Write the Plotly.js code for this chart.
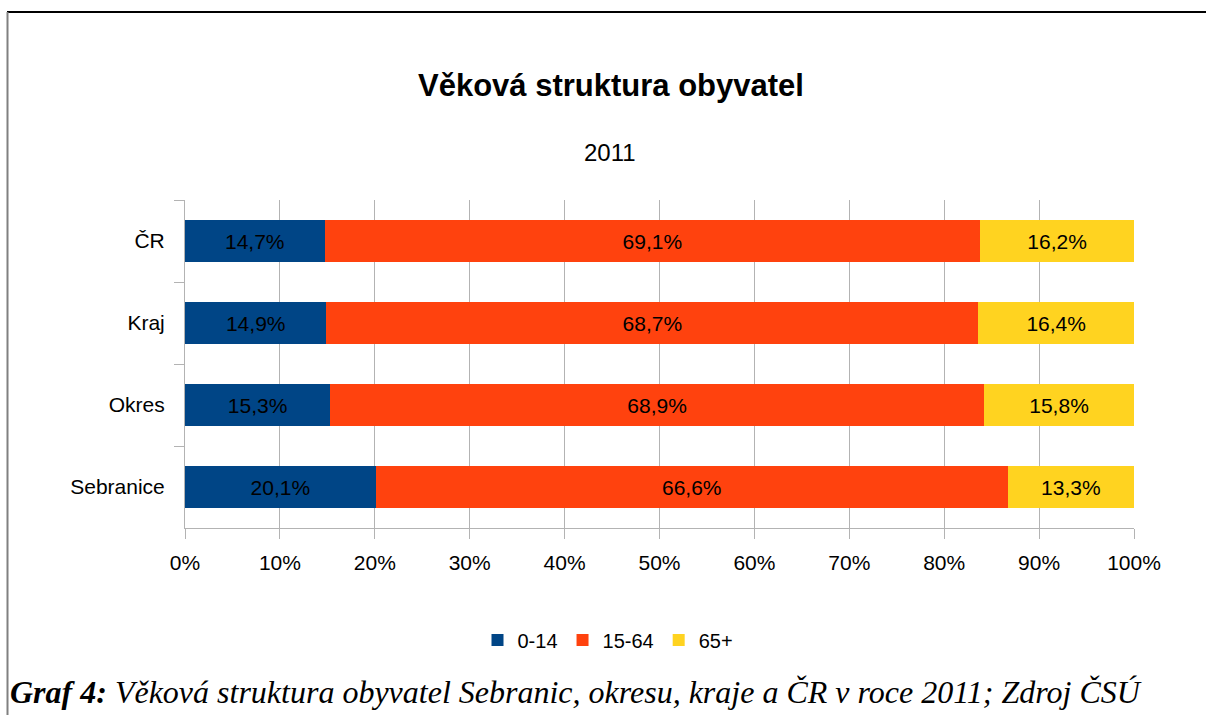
<!DOCTYPE html>
<html>
<head>
<meta charset="utf-8">
<script src="https://cdn.plot.ly/plotly-3.0.1.min.js"></script>
<style>html,body{margin:0;padding:0;background:#fff;}#chart{width:1206px;height:715px;}</style>
</head>
<body>
<div id="chart"></div>
<script>
const categories = ["ČR", "Kraj", "Okres", "Sebranice"];
const seriesNames = ["0-14", "15-64", "65+"];
const age0_14 = [14.7, 14.9, 15.3, 20.1];
const age15_64 = [69.1, 68.7, 68.9, 66.6];
const age65plus = [16.2, 16.4, 15.8, 13.3];
const xTickValues = [0, 10, 20, 30, 40, 50, 60, 70, 80, 90, 100];
const xTickLabels = ["0%", "10%", "20%", "30%", "40%", "50%", "60%", "70%", "80%", "90%", "100%"];
const colors = ["#004586", "#ff420e", "#ffd320"];
const titleText = "Věková struktura obyvatel";
const subtitleText = "2011";
const captionBold = "Graf 4:";
const captionText = " Věková struktura obyvatel Sebranic, okresu, kraje a ČR v roce 2011; Zdroj ČSÚ";

const L = 185, R = 1134, T = 200, B = 528, W = 1206, H = 715;
const px = v => (v - L) / (R - L);
const py = v => (B - v) / (B - T);

const fontF = "Liberation Sans, Arial, sans-serif";
const allSeries = [age0_14, age15_64, age65plus];
const traces = allSeries.map((vals, i) => ({
  type: "bar",
  orientation: "h",
  name: seriesNames[i],
  y: categories,
  x: vals,
  marker: {color: colors[i], line: {width: 0}},
  texttemplate: "%{x:.1f}%",
  textposition: "inside",
  insidetextanchor: "middle",
  textfont: {family: fontF, size: 21, color: "#000"},
  constraintext: "none",
  hoverinfo: "none"
}));

const layout = {
  width: W, height: H,
  margin: {l: L, r: W - R, t: T, b: H - B, pad: 0},
  paper_bgcolor: "#fff", plot_bgcolor: "#fff",
  barmode: "stack",
  bargap: 0.49,
  separators: ",.",
  showlegend: true,
  font: {family: fontF, size: 21, color: "#000"},
  legend: {orientation: "h", x: px(608), xanchor: "center", y: py(640), yanchor: "middle",
           font: {family: fontF, size: 20, color: "#000"}, itemwidth: 30, traceorder: "normal", tracegroupgap: 0},
  xaxis: {range: [0, 100], tickmode: "array", tickvals: xTickValues, ticktext: xTickLabels, showgrid: true, gridcolor: "#b3b3b3", gridwidth: 1,
          zeroline: false, showline: true, linecolor: "#b3b3b3", linewidth: 1, ticks: "outside", ticklen: 10,
          tickcolor: "#b3b3b3", ticklabelstandoff: 6, tickfont: {family: fontF, size: 21, color: "#000"}, fixedrange: true},
  yaxis: {type: "category", categoryorder: "array", categoryarray: categories, autorange: "reversed",
          showgrid: false, zeroline: false, showline: true, linecolor: "#b3b3b3", linewidth: 1,
          ticks: "outside", ticklen: 10, tickcolor: "#b3b3b3", tickson: "boundaries", ticklabelstandoff: 15,
          tickfont: {family: fontF, size: 21, color: "#000"}, fixedrange: true},
  annotations: [
    {text: "<b>" + titleText + "</b>", xref: "paper", yref: "paper", x: px(611), y: py(85), xanchor: "center", yanchor: "middle",
     showarrow: false, font: {family: fontF, size: 31, color: "#000"}},
    {text: subtitleText, xref: "paper", yref: "paper", x: px(610), y: py(152), xanchor: "center", yanchor: "middle",
     showarrow: false, font: {family: fontF, size: 24, color: "#000"}},
    {text: "<b><i>" + captionBold + "</i></b><i>" + captionText + "</i>", xref: "paper", yref: "paper",
     x: px(8), y: py(692), xanchor: "left", yanchor: "middle", showarrow: false,
     font: {family: "Liberation Serif, Times New Roman, serif", size: 32, color: "#000"}}
  ],
  shapes: [
    {type: "line", xref: "paper", yref: "paper", x0: px(7), x1: px(1206), y0: py(12), y1: py(12), line: {color: "#000", width: 2}},
    {type: "line", xref: "paper", yref: "paper", x0: px(7.5), x1: px(7.5), y0: py(12), y1: py(715), line: {color: "#808080", width: 2}}
  ]
};

Plotly.newPlot("chart", traces, layout, {displayModeBar: false, staticPlot: true});
</script>
</body>
</html>
